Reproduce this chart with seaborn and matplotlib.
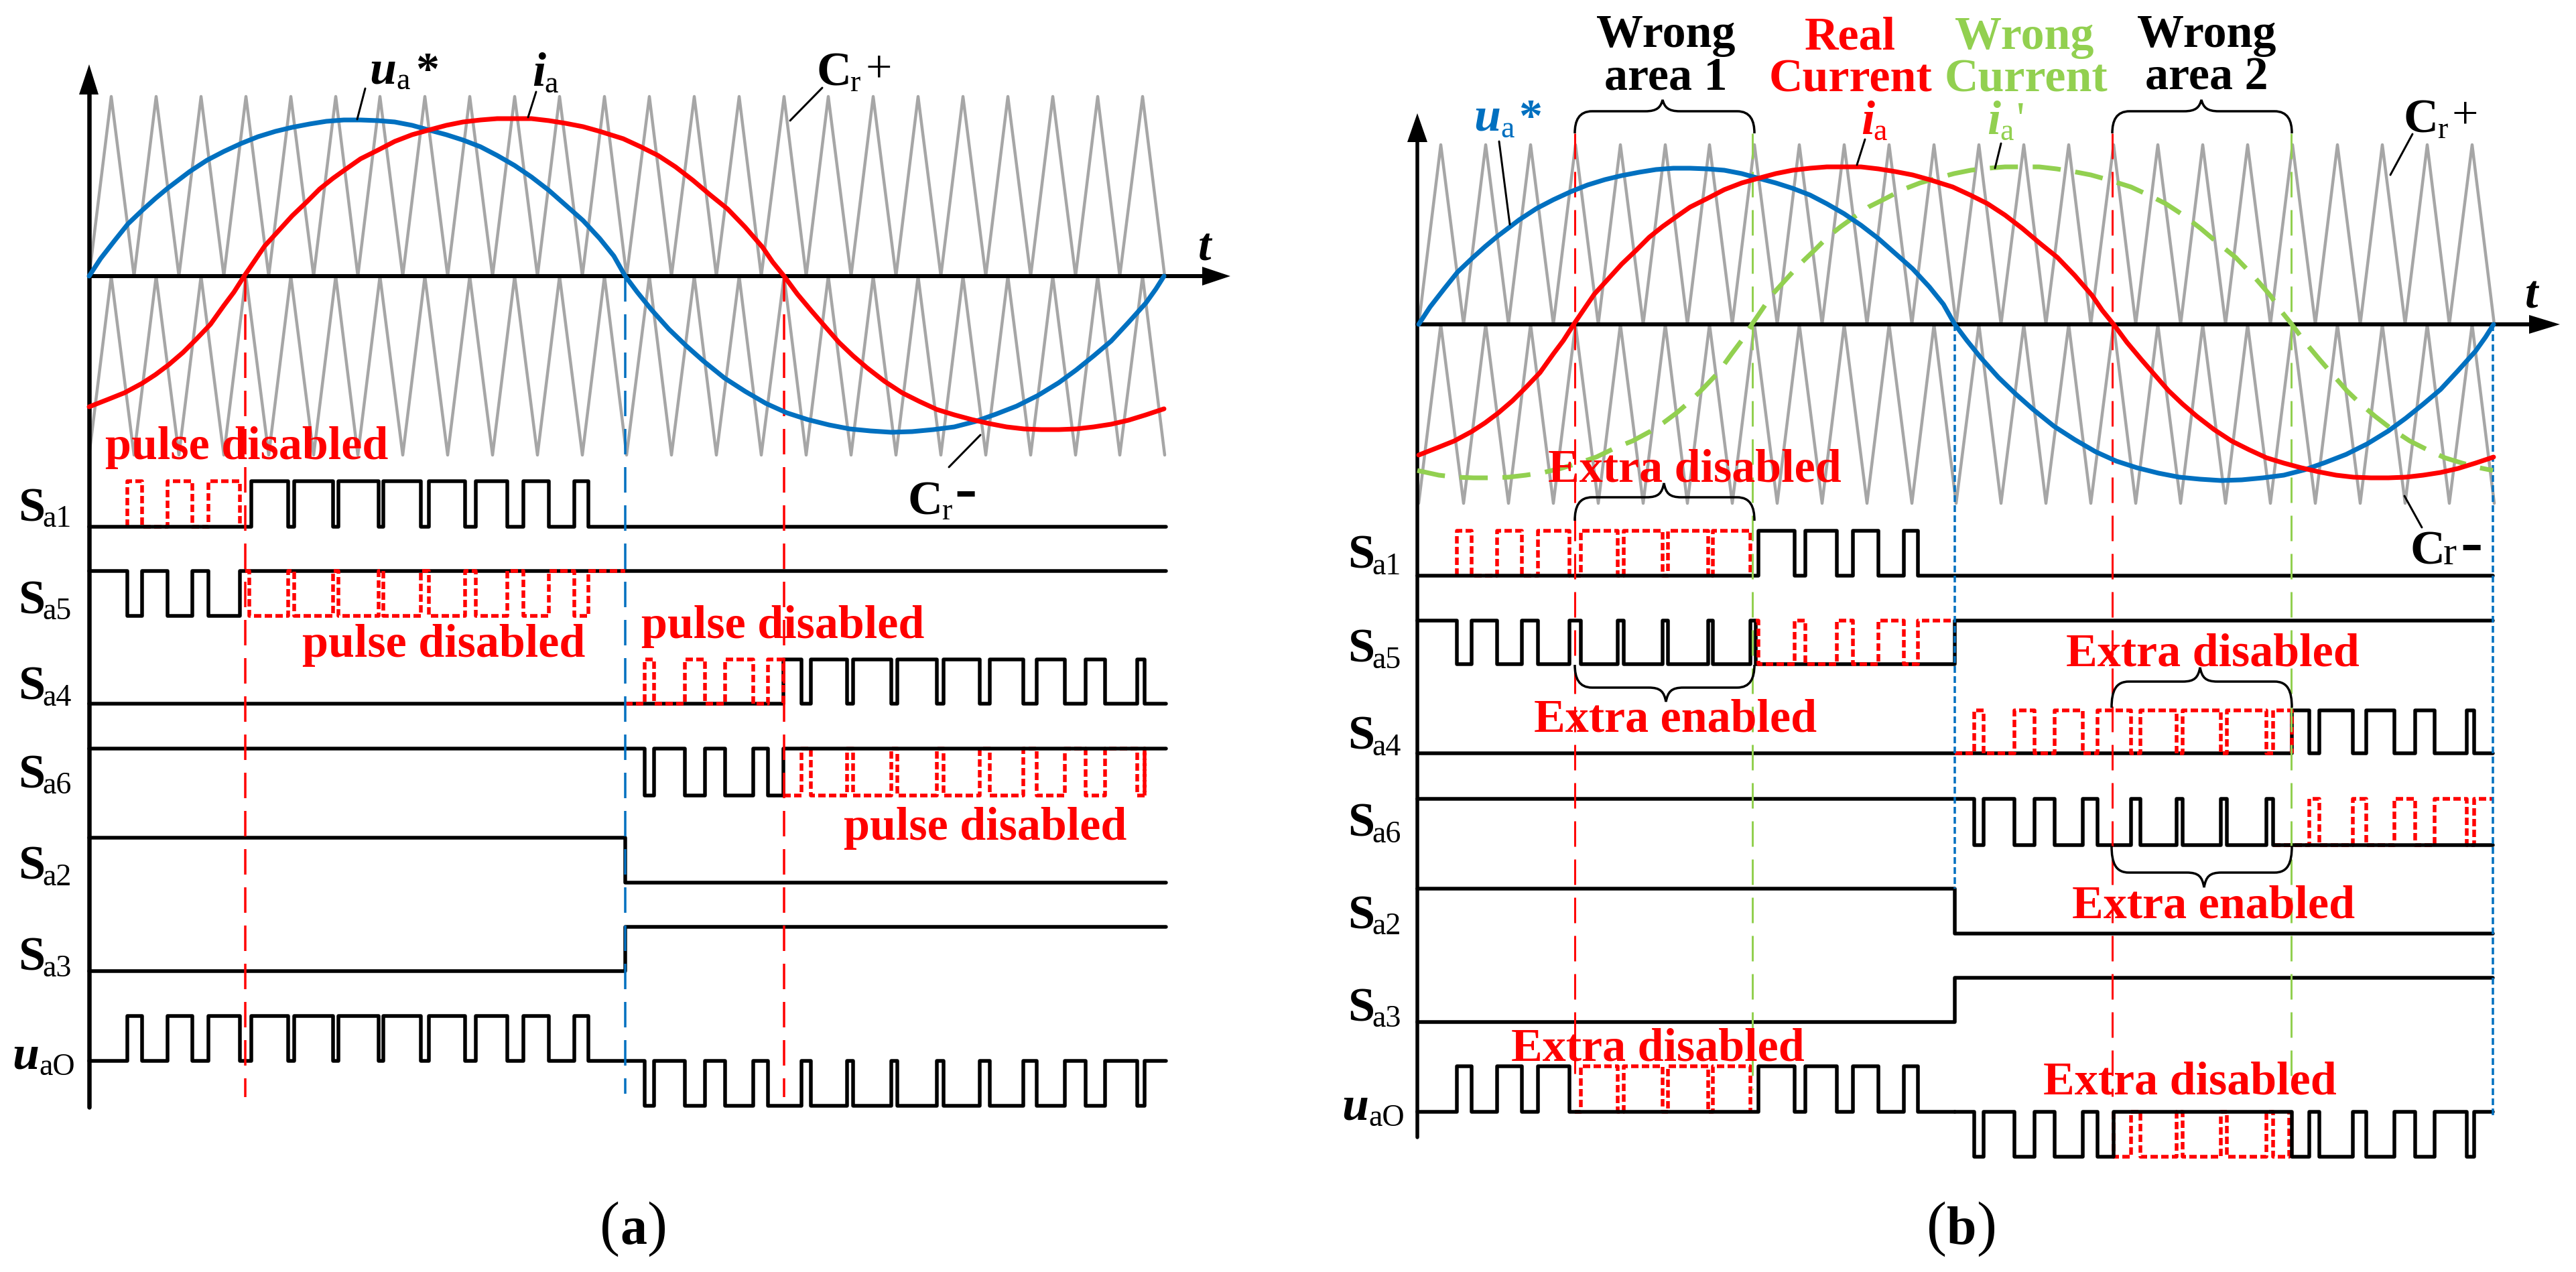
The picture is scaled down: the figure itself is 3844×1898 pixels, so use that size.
import numpy as np
import matplotlib
matplotlib.use('Agg')
import matplotlib.pyplot as plt
from matplotlib.patches import Polygon, PathPatch
from matplotlib.path import Path
import seaborn as sns

# ---- values, in panel (a) pixels; panel (b) is shifted ----
carrier_x = [133, 166, 200, 233, 267, 300, 334, 367, 401, 434, 468, 501, 534, 567, 601, 634, 668,
             701, 735, 768, 802, 835, 869, 902, 935, 969, 1002, 1036, 1069, 1103, 1136, 1170, 1203,
             1236, 1270, 1303, 1337, 1370, 1404, 1437, 1471, 1504, 1538, 1571, 1605, 1638, 1671,
             1705, 1738]

ua_x = [133, 150, 171, 191, 212, 232, 250, 283, 309, 334, 360, 385, 411, 436, 462, 487, 513, 538,
        564, 589, 615, 640, 666, 691, 717, 742, 768, 793, 819, 844, 870, 895, 916, 933,
        951, 972, 998, 1024, 1050, 1081, 1112, 1143, 1174, 1205, 1237, 1268, 1299, 1330, 1361,
        1393, 1424, 1455, 1486, 1517, 1549, 1580, 1606, 1632, 1658, 1684, 1710, 1725, 1737]
ua_y = [413, 387, 360, 335, 315, 297, 282, 257, 240, 227, 215, 205, 197, 191, 186, 182, 180, 180,
        181, 183, 188, 195, 202, 210, 220, 233, 248, 265, 285, 307, 330, 357, 383, 413,
        437, 463, 492, 517, 540, 565, 585, 603, 617, 627, 635, 641, 644, 646, 645,
        642, 638, 630, 619, 607, 591, 572, 553, 532, 510, 482, 453, 432, 413]

ia_x = [133, 161, 186, 212, 232, 252, 273, 293, 314, 334, 349, 365, 380, 395, 416, 436, 457, 477,
        497, 518, 538, 564, 589, 615, 640, 666, 691, 717, 742, 768, 793, 819, 844, 870, 895, 930,
        956, 982, 1008, 1034, 1060, 1086, 1112, 1138, 1153, 1170, 1190, 1211, 1231, 1252, 1273,
        1294, 1320, 1346, 1372, 1398, 1424, 1450, 1476, 1502, 1528, 1554, 1580, 1606, 1632, 1658,
        1684, 1710, 1737]
ia_y = [608, 597, 587, 573, 560, 545, 527, 507, 485, 457, 437, 412, 390, 368, 345, 323, 303, 283,
        267, 252, 238, 225, 212, 202, 195, 188, 183, 180, 178, 178, 178, 181, 185, 190, 197, 208,
        220, 233, 250, 270, 292, 313, 340, 370, 392, 413, 440, 465, 488, 512, 532,
        550, 570, 587, 600, 612, 620, 627, 633, 638, 641, 642, 642, 641, 638, 634,
        628, 620, 611]

wrong_x = [131, 163, 189, 215, 241, 267, 293, 319, 345, 371, 398, 427, 452, 478, 498, 518, 539, 559,
           580, 600, 615, 631, 646, 661, 682, 702, 723, 743, 763, 784, 804, 830, 855, 881, 906,
           932, 957, 983, 1008, 1034, 1059, 1085, 1110, 1136, 1161, 1196, 1222, 1248, 1274, 1300,
           1326, 1352, 1378, 1404, 1419, 1436, 1456, 1477, 1497, 1518, 1539, 1560, 1586, 1612,
           1638, 1664, 1690, 1716, 1736]
wrong_y = [631, 638, 641, 642, 642, 641, 638, 634, 628, 620, 611, 597, 587, 573, 560, 545, 527, 507,
           485, 457, 437, 412, 390, 368, 345, 323, 303, 283, 267, 252, 238, 225, 212, 202, 195,
           188, 183, 180, 178, 178, 178, 181, 185, 190, 197, 208, 220, 233, 250, 270,
           292, 313, 340, 370, 392, 413, 440, 465, 488, 512, 532, 550, 570, 587,
           600, 612, 620, 627, 631]

# switching edges, on/off pairs
sa1_red_a = [190, 212, 250, 287, 311, 358]
sa1_blk_a = [375, 430, 439, 497, 505, 565, 572, 628, 640, 694, 710, 757, 781, 819, 857, 878]
sa5_blk_a = [190, 212, 250, 287, 311, 358]
sa5_red_a = [372, 430, 439, 497, 505, 565, 572, 628, 640, 694, 710, 757, 781, 819, 857, 878]
sa4_blk_a = [1169, 1196, 1210, 1264, 1273, 1330, 1339, 1398, 1408, 1462, 1477, 1527, 1547, 1589,
             1620, 1649, 1697, 1708]
sa4_red_a = [962, 976, 1022, 1052, 1082, 1124, 1146, 1169]
sa6_blk_a = [962, 976, 1022, 1052, 1082, 1124, 1146, 1169]
sa6_red_a = [1196, 1210, 1264, 1273, 1330, 1339, 1398, 1408, 1462, 1477, 1527, 1547, 1589, 1620,
             1649, 1697, 1708, 1708]
uao_pos_a = [190, 212, 250, 287, 311, 358, 375, 430, 439, 497, 505, 565, 572, 628, 640, 694, 710,
             757, 781, 819, 857, 878]
uao_neg_a = [962, 976, 1022, 1052, 1082, 1124, 1146, 1196, 1210, 1264, 1273, 1330, 1339, 1398,
             1408, 1462, 1477, 1527, 1547, 1589, 1620, 1649, 1697, 1708]

sa1_red_b = [190, 212, 250, 287, 311, 358, 375, 430, 439, 497, 505, 565, 572, 628]
sa1_blk_b = [640, 694, 710, 757, 781, 819, 857, 878]
sa5_blk_b = [190, 212, 250, 287, 311, 358, 375, 430, 439, 497, 505, 565, 572, 628, 636, 933]
sa5_red_b = [640, 694, 710, 757, 781, 819, 857, 878]
sa4_blk_b = [1436, 1462, 1477, 1527, 1547, 1589, 1620, 1649, 1697, 1708]
sa4_red_b = [962, 976, 1022, 1052, 1082, 1124, 1146, 1196, 1210, 1264, 1273, 1330, 1339, 1398,
             1408, 1436]
sa6_blk_b = [962, 976, 1022, 1052, 1082, 1124, 1146, 1196, 1210, 1264, 1273, 1330, 1339, 1398,
             1408, 1736]
sa6_red_b = [1462, 1477, 1527, 1547, 1589, 1620, 1649, 1697, 1708, 1736]
uao_pos_blk_b = [190, 212, 250, 287, 311, 358, 640, 694, 710, 757, 781, 819, 857, 878]
uao_pos_red_b = [375, 430, 439, 497, 505, 565, 572, 628]
uao_neg_blk_b = [962, 976, 1022, 1052, 1082, 1124, 1146, 1170, 1436, 1462, 1477, 1527, 1547, 1589,
                 1620, 1649, 1697, 1708]
uao_neg_red_b = [1170, 1196, 1210, 1264, 1273, 1330, 1339, 1398, 1408, 1432]

# row levels (high, low) in the picture
rows_a = {'Sa1': (719, 787), 'Sa5': (853, 920), 'Sa4': (985, 1051), 'Sa6': (1118, 1188),
          'Sa2': (1251, 1318), 'Sa3': (1384, 1450), 'uaO': (1517, 1584, 1651)}
rows_b = {'Sa1': (793, 860), 'Sa5': (927, 992), 'Sa4': (1061, 1125), 'Sa6': (1193, 1262),
          'Sa2': (1327, 1394), 'Sa3': (1460, 1526), 'uaO': (1592, 1660, 1727)}

RED = '#FF0000'
BLUE = '#0070C0'
GREEN = '#92D050'
GRAY = '#A6A6A6'
PX = 0.72  # points per pixel at dpi 100

sns.set_theme(style='white')
plt.rcParams['font.family'] = ['Liberation Serif', 'DejaVu Serif']

fig, ax = plt.subplots(figsize=(38.44, 18.99), dpi=100)
ax.set_position([0, 0, 1, 1])


def line(x, y, color='black', lw=5.5, dash=None, z=3, cap='butt'):
    kw = {}
    if dash is not None:
        kw['linestyle'] = (0, (dash[0] / lw, dash[1] / lw))
        kw['dash_capstyle'] = cap
    else:
        kw['solid_capstyle'] = 'round'
    sns.lineplot(x=np.asarray(x, dtype=float), y=np.asarray(y, dtype=float), ax=ax, color=color,
                 linewidth=lw * PX, sort=False, estimator=None, errorbar=None, legend=False,
                 solid_joinstyle='round', zorder=z, **kw)


def pulses(edges, base, peak, x0=None, x1=None, hold=False):
    xs, ys = [], []
    if x0 is not None:
        xs.append(x0)
        ys.append(base)
    for on, off in zip(edges[::2], edges[1::2]):
        xs += [on, on, off, off]
        ys += [base, peak, peak, base]
    if hold:
        xs, ys = xs[:-1], ys[:-1]
    if x1 is not None:
        xs.append(x1)
        ys.append(base)
    return xs, ys


def txt(x, y, s, size=70, color='black', weight='bold', style='normal', ha='left'):
    ax.text(x, y, s, fontsize=size * PX, color=color, fontweight=weight, fontstyle=style,
            ha=ha, va='baseline', zorder=8)


def row_label(x, base, tag):
    txt(x, base, 'S', 72)
    txt(x + 36, base + 9, tag, 46, weight='normal')


def uao_label(x, base):
    txt(x, base, 'u', 72, style='italic')
    txt(x + 40, base + 9, 'aO', 46, weight='normal')


def brace(x0, x1, xm, y_end, y_line, y_tip):
    s = 1 if y_line < y_end else -1
    r = 26
    verts = [(x0, y_end), (x0, y_line + s * 14), (x0 + 6, y_line), (x0 + r, y_line),
             (xm - r, y_line), (xm - 8, y_line), (xm - 3, y_line - s * 6), (xm, y_tip),
             (xm + 3, y_line - s * 6), (xm + 8, y_line), (xm + r, y_line),
             (x1 - r, y_line), (x1 - 6, y_line), (x1, y_line + s * 14), (x1, y_end)]
    codes = [Path.MOVETO, Path.CURVE4, Path.CURVE4, Path.CURVE4, Path.LINETO, Path.CURVE4,
             Path.CURVE4, Path.CURVE4, Path.CURVE4, Path.CURVE4, Path.CURVE4, Path.LINETO,
             Path.CURVE4, Path.CURVE4, Path.CURVE4]
    ax.add_patch(PathPatch(Path(verts, codes), fc='none', ec='black', lw=3.5 * PX, zorder=6))


def draw_waves(dx, dy):
    up = [dy + (145 if i % 2 else 413) for i in range(len(carrier_x))]
    down = [dy + (413 if i % 2 else 680) for i in range(len(carrier_x))]
    cx = [v + dx for v in carrier_x]
    line(cx, up, GRAY, 4.5, z=1)
    line(cx, down, GRAY, 4.5, z=1)
    line([v + dx for v in ua_x], [v + dy for v in ua_y], BLUE, 7, z=5)
    line([v + dx for v in ia_x], [v + dy for v in ia_y], RED, 7, z=5.5)


def draw_row(edges, levels, color='black', lw=5.5, dx=0, x0=None, x1=None, hold=False, z=3):
    xs, ys = pulses(edges, levels[0], levels[1], x0, x1, hold)
    dash = (11, 5) if color == RED else None
    line([v + dx for v in xs], ys, color, lw, dash=dash, z=z)


# ---- panel (a) ----
draw_waves(0, 0)
r = rows_a
draw_row(sa1_red_a, r['Sa1'][::-1], RED, 5.5, z=2)
draw_row(sa1_blk_a, r['Sa1'][::-1], x0=133, x1=1740)
draw_row(sa5_blk_a, r['Sa5'], x0=133, x1=1740)
draw_row(sa5_red_a, r['Sa5'], RED, 5.5, x0=366, x1=933, z=3.5)
draw_row(sa4_blk_a, r['Sa4'][::-1], x0=133, x1=1740)
draw_row(sa4_red_a, r['Sa4'][::-1], RED, 5.5, x0=933, z=3.5)
draw_row(sa6_blk_a, r['Sa6'], x0=133, x1=1740)
draw_row(sa6_red_a, r['Sa6'][::-1], RED, 5.5, x0=1169, z=2)
line([133, 933, 933, 1740], [r['Sa2'][0], r['Sa2'][0], r['Sa2'][1], r['Sa2'][1]])
line([133, 933, 933, 1740], [r['Sa3'][1], r['Sa3'][1], r['Sa3'][0], r['Sa3'][0]])
draw_row(uao_pos_a, (r['uaO'][1], r['uaO'][0]), x0=133, x1=933)
draw_row(uao_neg_a, (r['uaO'][1], r['uaO'][2]), x0=933, x1=1740)

for vx, vend, c in [(366, 1638, RED), (933, 1633, BLUE), (1170, 1638, RED)]:
    line([vx, vx], [413, vend], c, 3.5, dash=(38, 19), z=4)

line([133, 133], [142, 1653], lw=6.5, z=4)
line([133, 1800], [413, 413], lw=6, z=2)
ax.add_patch(Polygon([(133, 97), (118, 142), (147, 142)], fc='black', ec='none', zorder=4))
ax.add_patch(Polygon([(1836, 413), (1794, 399), (1794, 427)], fc='black', ec='none', zorder=4))

for y0, x0, x1, y1 in [(133, 545, 533, 179), (138, 800, 788, 176), (132, 1227, 1179, 181),
                       (650, 1463, 1416, 698)]:
    ax.plot([x0, x1], [y0, y1], color='black', lw=3 * PX, zorder=6)

txt(551, 124, 'u', 72, style='italic')
txt(591, 133, 'a', 46, weight='normal')
txt(620, 126, '*', 70)
txt(794, 128, 'i', 72, style='italic')
txt(812, 138, 'a', 46, weight='normal')
txt(1218, 127, 'C', 72)
txt(1268, 136, 'r', 46, weight='normal')
txt(1311, 122, '+', 70, weight='normal', ha='center')
txt(1355, 767, 'C', 72)
txt(1405, 775, 'r', 46, weight='normal')
txt(1424, 760, '-', 100)
txt(1788, 388, 't', 70, style='italic')

txt(157, 685, 'pulse disabled', color=RED)
txt(451, 980, 'pulse disabled', color=RED)
txt(957, 952, 'pulse disabled', color=RED)
txt(1259, 1253, 'pulse disabled', color=RED)

row_label(27, 777, 'a1')
row_label(27, 915, 'a5')
row_label(27, 1044, 'a4')
row_label(27, 1175, 'a6')
row_label(27, 1312, 'a2')
row_label(27, 1448, 'a3')
uao_label(18, 1595)

txt(895, 1856, '(', 90, weight='normal')
txt(925, 1856, 'a', 80)
txt(965, 1856, ')', 90, weight='normal')

# ---- panel (b) ----
DX = 1984
DY = 72
draw_waves(DX, DY)
line([v + DX for v in wrong_x], [v + DY for v in wrong_y], GREEN, 7, dash=(42, 22), z=4.5)
r = rows_b
draw_row(sa1_red_b, r['Sa1'][::-1], RED, 5.5, DX, z=2)
draw_row(sa1_blk_b, r['Sa1'][::-1], dx=DX, x0=131, x1=1736)
draw_row(sa5_blk_b, r['Sa5'], dx=DX, x0=131, x1=1736)
draw_row(sa5_red_b, r['Sa5'], RED, 5.5, DX, x0=636, x1=933, z=3.5)
draw_row(sa4_blk_b, r['Sa4'][::-1], dx=DX, x0=131, x1=1736)
draw_row(sa4_red_b, r['Sa4'][::-1], RED, 5.5, DX, x0=933, z=3.5)
draw_row(sa6_blk_b, r['Sa6'], dx=DX, x0=131, hold=True)
draw_row(sa6_red_b, r['Sa6'][::-1], RED, 5.5, DX, x0=1408, hold=True, z=2)
line([2115, 2917, 2917, 3720], [r['Sa2'][0], r['Sa2'][0], r['Sa2'][1], r['Sa2'][1]])
line([2115, 2917, 2917, 3720], [r['Sa3'][1], r['Sa3'][1], r['Sa3'][0], r['Sa3'][0]])
draw_row(uao_pos_red_b, (r['uaO'][1], r['uaO'][0]), RED, 5.5, DX, x0=366, z=2)
draw_row(uao_pos_blk_b, (r['uaO'][1], r['uaO'][0]), dx=DX, x0=131, x1=933)
draw_row(uao_neg_red_b, (r['uaO'][1], r['uaO'][2]), RED, 5.5, DX, z=2)
draw_row(uao_neg_blk_b, (r['uaO'][1], r['uaO'][2]), dx=DX, x0=933, x1=1736)

for vx, y0, y1, c in [(2350, 200, 1603, RED), (2615, 200, 1627, GREEN),
                      (3152, 200, 1637, RED), (3419, 200, 1625, GREEN)]:
    line([vx, vx], [y0, y1], c, 3, dash=(38, 19), z=4)
for vx, y1 in [(2917, 1327), (3720, 1667)]:
    line([vx, vx], [485, y1], BLUE, 3.5, dash=(10, 5), z=4)

line([2115, 2115], [213, 1698], lw=5.5, z=4)
line([2115, 3780], [485, 485], lw=6, z=2)
ax.add_patch(Polygon([(2115, 170), (2100, 213), (2130, 213)], fc='black', ec='none', zorder=4))
ax.add_patch(Polygon([(3820, 485), (3774, 471), (3774, 499)], fc='black', ec='none', zorder=4))

for y0, x0, x1, y1 in [(212, 2237, 2253, 336), (209, 2783, 2771, 247), (215, 2986, 2977, 252),
                       (201, 3600, 3567, 262), (788, 3614, 3588, 741)]:
    ax.plot([x0, x1], [y0, y1], color='black', lw=3 * PX, zorder=6)

brace(2350, 2618, 2481, 200, 167, 150)
brace(3152, 3420, 3285, 200, 167, 150)
brace(2350, 2618, 2483, 778, 743, 722)
brace(2350, 2618, 2486, 993, 1027, 1048)
brace(3151, 3420, 3283, 1057, 1018, 997)
brace(3151, 3420, 3289, 1263, 1303, 1325)

txt(2486, 70, 'Wrong', ha='center')
txt(2486, 133, 'area 1', ha='center')
txt(2761, 73, 'Real', color=RED, ha='center')
txt(2761, 136, 'Current', color=RED, ha='center')
txt(3021, 73, 'Wrong', color=GREEN, ha='center')
txt(3023, 136, 'Current', color=GREEN, ha='center')
txt(3293, 70, 'Wrong', ha='center')
txt(3293, 133, 'area 2', ha='center')

txt(2199, 194, 'u', 72, color=BLUE, style='italic')
txt(2239, 205, 'a', 46, color=BLUE, weight='normal')
txt(2266, 196, '*', 70, color=BLUE)
txt(2777, 200, 'i', 72, color=RED, style='italic')
txt(2795, 209, 'a', 46, color=RED, weight='normal')
txt(2965, 200, 'i', 72, color=GREEN, style='italic')
txt(2984, 209, 'a', 46, color=GREEN, weight='normal')
txt(3008, 200, "'", 70, color=GREEN, weight='normal')
txt(3586, 197, 'C', 72)
txt(3637, 206, 'r', 46, weight='normal')
txt(3678, 191, '+', 70, weight='normal', ha='center')
txt(3596, 842, 'C', 72)
txt(3646, 842, 'r', 60, weight='normal')
txt(3671, 840, '-', 100)
txt(3768, 459, 't', 70, style='italic')

txt(2310, 718, 'Extra disabled', color=RED)
txt(2289, 1092, 'Extra enabled', color=RED)
txt(3083, 994, 'Extra disabled', color=RED)
txt(3092, 1369, 'Extra enabled', color=RED)
txt(2255, 1583, 'Extra disabled', color=RED)
txt(3049, 1633, 'Extra disabled', color=RED)

row_label(2011, 848, 'a1')
row_label(2011, 988, 'a5')
row_label(2011, 1118, 'a4')
row_label(2011, 1248, 'a6')
row_label(2011, 1385, 'a2')
row_label(2011, 1523, 'a3')
uao_label(2002, 1671)

txt(2875, 1856, '(', 90, weight='normal')
txt(2905, 1856, 'b', 80)
txt(2949, 1856, ')', 90, weight='normal')

ax.set_xlim(0, 3844)
ax.set_ylim(1899, 0)
ax.axis('off')
fig.savefig('out.png', dpi=100, facecolor='white')
